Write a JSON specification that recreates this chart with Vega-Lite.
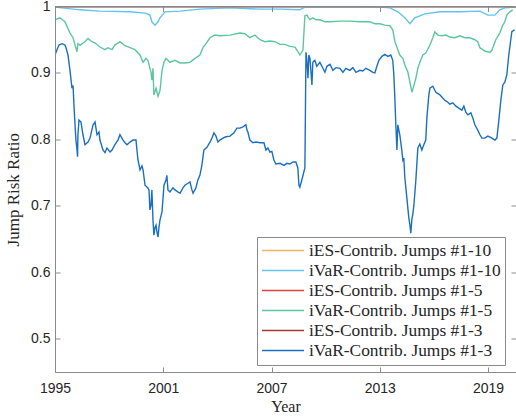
{
  "$schema": "https://vega.github.io/schema/vega-lite/v6.json",
  "width": 461,
  "height": 365.5,
  "autosize": {"type": "none"},
  "padding": {"left": 55, "top": 6.5, "right": 0, "bottom": 48},
  "background": "white",
  "config": {
    "view": {"stroke": null},
    "axis": {
      "domainColor": "#8a8a8a",
      "tickColor": "#8a8a8a",
      "tickSize": -5,
      "grid": false,
      "labelFont": "Liberation Sans",
      "labelFontSize": 14,
      "labelColor": "#262626",
      "labelFlush": false,
      "titleFont": "Liberation Serif",
      "titleFontWeight": "normal",
      "titleColor": "#262626",
      "domainWidth": 1
    },
    "legend": {
      "orient": "none",
      "legendX": 202,
      "legendY": 230.5,
      "symbolType": "stroke",
      "symbolSize": 1764,
      "symbolStrokeWidth": 1.5,
      "clipHeight": 19.2,
      "rowPadding": 0,
      "labelFont": "Liberation Serif",
      "labelFontSize": 17.4,
      "labelColor": "#262626",
      "labelOffset": 4,
      "labelLimit": 400,
      "padding": 4,
      "strokeColor": "#8a8a8a",
      "fillColor": "white"
    }
  },
  "datasets": {
    "ies": [
      {"s": "iES-Contrib. Jumps #1-10", "year": 1995.0, "v": 1.0},
      {"s": "iES-Contrib. Jumps #1-10", "year": 2020.48, "v": 1.0},
      {"s": "iES-Contrib. Jumps #1-5", "year": 1995.0, "v": 1.0},
      {"s": "iES-Contrib. Jumps #1-5", "year": 2020.48, "v": 1.0},
      {"s": "iES-Contrib. Jumps #1-3", "year": 1995.0, "v": 1.0},
      {"s": "iES-Contrib. Jumps #1-3", "year": 2020.48, "v": 1.0}
    ],
    "ivar": [
      {"s": "iVaR-Contrib. Jumps #1-10", "year": 1995.00, "v": 0.999},
      {"s": "iVaR-Contrib. Jumps #1-10", "year": 1996.39, "v": 0.995},
      {"s": "iVaR-Contrib. Jumps #1-10", "year": 1997.49, "v": 0.993},
      {"s": "iVaR-Contrib. Jumps #1-10", "year": 1999.16, "v": 0.992},
      {"s": "iVaR-Contrib. Jumps #1-10", "year": 1999.99, "v": 0.990},
      {"s": "iVaR-Contrib. Jumps #1-10", "year": 2000.26, "v": 0.987},
      {"s": "iVaR-Contrib. Jumps #1-10", "year": 2000.37, "v": 0.977},
      {"s": "iVaR-Contrib. Jumps #1-10", "year": 2000.54, "v": 0.972},
      {"s": "iVaR-Contrib. Jumps #1-10", "year": 2000.71, "v": 0.977},
      {"s": "iVaR-Contrib. Jumps #1-10", "year": 2000.82, "v": 0.983},
      {"s": "iVaR-Contrib. Jumps #1-10", "year": 2001.09, "v": 0.992},
      {"s": "iVaR-Contrib. Jumps #1-10", "year": 2001.93, "v": 0.993},
      {"s": "iVaR-Contrib. Jumps #1-10", "year": 2003.03, "v": 0.996},
      {"s": "iVaR-Contrib. Jumps #1-10", "year": 2004.70, "v": 0.998},
      {"s": "iVaR-Contrib. Jumps #1-10", "year": 2006.36, "v": 0.996},
      {"s": "iVaR-Contrib. Jumps #1-10", "year": 2007.47, "v": 0.996},
      {"s": "iVaR-Contrib. Jumps #1-10", "year": 2008.57, "v": 0.995},
      {"s": "iVaR-Contrib. Jumps #1-10", "year": 2008.85, "v": 0.999},
      {"s": "iVaR-Contrib. Jumps #1-10", "year": 2009.68, "v": 0.999},
      {"s": "iVaR-Contrib. Jumps #1-10", "year": 2013.01, "v": 0.999},
      {"s": "iVaR-Contrib. Jumps #1-10", "year": 2013.56, "v": 0.998},
      {"s": "iVaR-Contrib. Jumps #1-10", "year": 2014.00, "v": 0.992},
      {"s": "iVaR-Contrib. Jumps #1-10", "year": 2014.39, "v": 0.983},
      {"s": "iVaR-Contrib. Jumps #1-10", "year": 2014.67, "v": 0.974},
      {"s": "iVaR-Contrib. Jumps #1-10", "year": 2014.94, "v": 0.983},
      {"s": "iVaR-Contrib. Jumps #1-10", "year": 2015.50, "v": 0.989},
      {"s": "iVaR-Contrib. Jumps #1-10", "year": 2016.33, "v": 0.992},
      {"s": "iVaR-Contrib. Jumps #1-10", "year": 2017.44, "v": 0.992},
      {"s": "iVaR-Contrib. Jumps #1-10", "year": 2018.55, "v": 0.993},
      {"s": "iVaR-Contrib. Jumps #1-10", "year": 2018.99, "v": 0.987},
      {"s": "iVaR-Contrib. Jumps #1-10", "year": 2019.38, "v": 0.987},
      {"s": "iVaR-Contrib. Jumps #1-10", "year": 2019.65, "v": 0.995},
      {"s": "iVaR-Contrib. Jumps #1-10", "year": 2019.93, "v": 0.998},
      {"s": "iVaR-Contrib. Jumps #1-10", "year": 2020.48, "v": 0.999},

      {"s": "iVaR-Contrib. Jumps #1-5", "year": 1995.00, "v": 0.980},
      {"s": "iVaR-Contrib. Jumps #1-5", "year": 1995.28, "v": 0.983},
      {"s": "iVaR-Contrib. Jumps #1-5", "year": 1995.55, "v": 0.977},
      {"s": "iVaR-Contrib. Jumps #1-5", "year": 1995.83, "v": 0.960},
      {"s": "iVaR-Contrib. Jumps #1-5", "year": 1996.00, "v": 0.953},
      {"s": "iVaR-Contrib. Jumps #1-5", "year": 1996.11, "v": 0.942},
      {"s": "iVaR-Contrib. Jumps #1-5", "year": 1996.22, "v": 0.932},
      {"s": "iVaR-Contrib. Jumps #1-5", "year": 1996.27, "v": 0.944},
      {"s": "iVaR-Contrib. Jumps #1-5", "year": 1996.39, "v": 0.942},
      {"s": "iVaR-Contrib. Jumps #1-5", "year": 1996.66, "v": 0.947},
      {"s": "iVaR-Contrib. Jumps #1-5", "year": 1996.83, "v": 0.952},
      {"s": "iVaR-Contrib. Jumps #1-5", "year": 1997.05, "v": 0.947},
      {"s": "iVaR-Contrib. Jumps #1-5", "year": 1997.22, "v": 0.945},
      {"s": "iVaR-Contrib. Jumps #1-5", "year": 1997.49, "v": 0.939},
      {"s": "iVaR-Contrib. Jumps #1-5", "year": 1997.77, "v": 0.935},
      {"s": "iVaR-Contrib. Jumps #1-5", "year": 1997.94, "v": 0.938},
      {"s": "iVaR-Contrib. Jumps #1-5", "year": 1998.16, "v": 0.935},
      {"s": "iVaR-Contrib. Jumps #1-5", "year": 1998.32, "v": 0.942},
      {"s": "iVaR-Contrib. Jumps #1-5", "year": 1998.60, "v": 0.947},
      {"s": "iVaR-Contrib. Jumps #1-5", "year": 1998.88, "v": 0.941},
      {"s": "iVaR-Contrib. Jumps #1-5", "year": 1999.16, "v": 0.938},
      {"s": "iVaR-Contrib. Jumps #1-5", "year": 1999.43, "v": 0.935},
      {"s": "iVaR-Contrib. Jumps #1-5", "year": 1999.71, "v": 0.927},
      {"s": "iVaR-Contrib. Jumps #1-5", "year": 1999.88, "v": 0.916},
      {"s": "iVaR-Contrib. Jumps #1-5", "year": 2000.04, "v": 0.922},
      {"s": "iVaR-Contrib. Jumps #1-5", "year": 2000.15, "v": 0.919},
      {"s": "iVaR-Contrib. Jumps #1-5", "year": 2000.26, "v": 0.907},
      {"s": "iVaR-Contrib. Jumps #1-5", "year": 2000.32, "v": 0.901},
      {"s": "iVaR-Contrib. Jumps #1-5", "year": 2000.37, "v": 0.889},
      {"s": "iVaR-Contrib. Jumps #1-5", "year": 2000.43, "v": 0.907},
      {"s": "iVaR-Contrib. Jumps #1-5", "year": 2000.48, "v": 0.867},
      {"s": "iVaR-Contrib. Jumps #1-5", "year": 2000.60, "v": 0.877},
      {"s": "iVaR-Contrib. Jumps #1-5", "year": 2000.71, "v": 0.865},
      {"s": "iVaR-Contrib. Jumps #1-5", "year": 2000.82, "v": 0.874},
      {"s": "iVaR-Contrib. Jumps #1-5", "year": 2000.93, "v": 0.904},
      {"s": "iVaR-Contrib. Jumps #1-5", "year": 2001.04, "v": 0.916},
      {"s": "iVaR-Contrib. Jumps #1-5", "year": 2001.15, "v": 0.922},
      {"s": "iVaR-Contrib. Jumps #1-5", "year": 2001.37, "v": 0.916},
      {"s": "iVaR-Contrib. Jumps #1-5", "year": 2001.65, "v": 0.919},
      {"s": "iVaR-Contrib. Jumps #1-5", "year": 2001.93, "v": 0.915},
      {"s": "iVaR-Contrib. Jumps #1-5", "year": 2002.20, "v": 0.915},
      {"s": "iVaR-Contrib. Jumps #1-5", "year": 2002.48, "v": 0.916},
      {"s": "iVaR-Contrib. Jumps #1-5", "year": 2002.76, "v": 0.922},
      {"s": "iVaR-Contrib. Jumps #1-5", "year": 2003.03, "v": 0.927},
      {"s": "iVaR-Contrib. Jumps #1-5", "year": 2003.20, "v": 0.938},
      {"s": "iVaR-Contrib. Jumps #1-5", "year": 2003.31, "v": 0.942},
      {"s": "iVaR-Contrib. Jumps #1-5", "year": 2003.59, "v": 0.953},
      {"s": "iVaR-Contrib. Jumps #1-5", "year": 2003.86, "v": 0.957},
      {"s": "iVaR-Contrib. Jumps #1-5", "year": 2004.14, "v": 0.956},
      {"s": "iVaR-Contrib. Jumps #1-5", "year": 2004.70, "v": 0.957},
      {"s": "iVaR-Contrib. Jumps #1-5", "year": 2005.25, "v": 0.960},
      {"s": "iVaR-Contrib. Jumps #1-5", "year": 2005.53, "v": 0.959},
      {"s": "iVaR-Contrib. Jumps #1-5", "year": 2005.80, "v": 0.953},
      {"s": "iVaR-Contrib. Jumps #1-5", "year": 2006.08, "v": 0.957},
      {"s": "iVaR-Contrib. Jumps #1-5", "year": 2006.36, "v": 0.950},
      {"s": "iVaR-Contrib. Jumps #1-5", "year": 2006.63, "v": 0.947},
      {"s": "iVaR-Contrib. Jumps #1-5", "year": 2006.91, "v": 0.948},
      {"s": "iVaR-Contrib. Jumps #1-5", "year": 2007.19, "v": 0.947},
      {"s": "iVaR-Contrib. Jumps #1-5", "year": 2007.47, "v": 0.943},
      {"s": "iVaR-Contrib. Jumps #1-5", "year": 2007.74, "v": 0.943},
      {"s": "iVaR-Contrib. Jumps #1-5", "year": 2008.02, "v": 0.940},
      {"s": "iVaR-Contrib. Jumps #1-5", "year": 2008.30, "v": 0.939},
      {"s": "iVaR-Contrib. Jumps #1-5", "year": 2008.46, "v": 0.932},
      {"s": "iVaR-Contrib. Jumps #1-5", "year": 2008.57, "v": 0.927},
      {"s": "iVaR-Contrib. Jumps #1-5", "year": 2008.74, "v": 0.934},
      {"s": "iVaR-Contrib. Jumps #1-5", "year": 2008.85, "v": 0.986},
      {"s": "iVaR-Contrib. Jumps #1-5", "year": 2008.96, "v": 0.987},
      {"s": "iVaR-Contrib. Jumps #1-5", "year": 2009.13, "v": 0.980},
      {"s": "iVaR-Contrib. Jumps #1-5", "year": 2009.29, "v": 0.983},
      {"s": "iVaR-Contrib. Jumps #1-5", "year": 2009.46, "v": 0.980},
      {"s": "iVaR-Contrib. Jumps #1-5", "year": 2009.68, "v": 0.980},
      {"s": "iVaR-Contrib. Jumps #1-5", "year": 2009.96, "v": 0.977},
      {"s": "iVaR-Contrib. Jumps #1-5", "year": 2010.24, "v": 0.977},
      {"s": "iVaR-Contrib. Jumps #1-5", "year": 2010.79, "v": 0.978},
      {"s": "iVaR-Contrib. Jumps #1-5", "year": 2011.34, "v": 0.978},
      {"s": "iVaR-Contrib. Jumps #1-5", "year": 2011.90, "v": 0.977},
      {"s": "iVaR-Contrib. Jumps #1-5", "year": 2012.45, "v": 0.977},
      {"s": "iVaR-Contrib. Jumps #1-5", "year": 2012.73, "v": 0.974},
      {"s": "iVaR-Contrib. Jumps #1-5", "year": 2013.01, "v": 0.974},
      {"s": "iVaR-Contrib. Jumps #1-5", "year": 2013.28, "v": 0.972},
      {"s": "iVaR-Contrib. Jumps #1-5", "year": 2013.56, "v": 0.971},
      {"s": "iVaR-Contrib. Jumps #1-5", "year": 2013.72, "v": 0.965},
      {"s": "iVaR-Contrib. Jumps #1-5", "year": 2013.84, "v": 0.947},
      {"s": "iVaR-Contrib. Jumps #1-5", "year": 2014.00, "v": 0.935},
      {"s": "iVaR-Contrib. Jumps #1-5", "year": 2014.11, "v": 0.927},
      {"s": "iVaR-Contrib. Jumps #1-5", "year": 2014.28, "v": 0.922},
      {"s": "iVaR-Contrib. Jumps #1-5", "year": 2014.39, "v": 0.912},
      {"s": "iVaR-Contrib. Jumps #1-5", "year": 2014.56, "v": 0.901},
      {"s": "iVaR-Contrib. Jumps #1-5", "year": 2014.67, "v": 0.886},
      {"s": "iVaR-Contrib. Jumps #1-5", "year": 2014.78, "v": 0.871},
      {"s": "iVaR-Contrib. Jumps #1-5", "year": 2014.89, "v": 0.881},
      {"s": "iVaR-Contrib. Jumps #1-5", "year": 2015.00, "v": 0.892},
      {"s": "iVaR-Contrib. Jumps #1-5", "year": 2015.11, "v": 0.907},
      {"s": "iVaR-Contrib. Jumps #1-5", "year": 2015.22, "v": 0.916},
      {"s": "iVaR-Contrib. Jumps #1-5", "year": 2015.39, "v": 0.927},
      {"s": "iVaR-Contrib. Jumps #1-5", "year": 2015.55, "v": 0.930},
      {"s": "iVaR-Contrib. Jumps #1-5", "year": 2015.78, "v": 0.942},
      {"s": "iVaR-Contrib. Jumps #1-5", "year": 2015.94, "v": 0.953},
      {"s": "iVaR-Contrib. Jumps #1-5", "year": 2016.05, "v": 0.962},
      {"s": "iVaR-Contrib. Jumps #1-5", "year": 2016.22, "v": 0.957},
      {"s": "iVaR-Contrib. Jumps #1-5", "year": 2016.44, "v": 0.956},
      {"s": "iVaR-Contrib. Jumps #1-5", "year": 2016.66, "v": 0.957},
      {"s": "iVaR-Contrib. Jumps #1-5", "year": 2016.88, "v": 0.954},
      {"s": "iVaR-Contrib. Jumps #1-5", "year": 2017.16, "v": 0.953},
      {"s": "iVaR-Contrib. Jumps #1-5", "year": 2017.44, "v": 0.956},
      {"s": "iVaR-Contrib. Jumps #1-5", "year": 2017.71, "v": 0.953},
      {"s": "iVaR-Contrib. Jumps #1-5", "year": 2017.99, "v": 0.953},
      {"s": "iVaR-Contrib. Jumps #1-5", "year": 2018.27, "v": 0.950},
      {"s": "iVaR-Contrib. Jumps #1-5", "year": 2018.43, "v": 0.947},
      {"s": "iVaR-Contrib. Jumps #1-5", "year": 2018.55, "v": 0.938},
      {"s": "iVaR-Contrib. Jumps #1-5", "year": 2018.82, "v": 0.933},
      {"s": "iVaR-Contrib. Jumps #1-5", "year": 2019.10, "v": 0.931},
      {"s": "iVaR-Contrib. Jumps #1-5", "year": 2019.21, "v": 0.934},
      {"s": "iVaR-Contrib. Jumps #1-5", "year": 2019.32, "v": 0.942},
      {"s": "iVaR-Contrib. Jumps #1-5", "year": 2019.43, "v": 0.950},
      {"s": "iVaR-Contrib. Jumps #1-5", "year": 2019.65, "v": 0.960},
      {"s": "iVaR-Contrib. Jumps #1-5", "year": 2019.82, "v": 0.972},
      {"s": "iVaR-Contrib. Jumps #1-5", "year": 2019.93, "v": 0.977},
      {"s": "iVaR-Contrib. Jumps #1-5", "year": 2020.04, "v": 0.987},
      {"s": "iVaR-Contrib. Jumps #1-5", "year": 2020.21, "v": 0.992},
      {"s": "iVaR-Contrib. Jumps #1-5", "year": 2020.37, "v": 0.995},

      {"s": "iVaR-Contrib. Jumps #1-3", "year": 1995.00, "v": 0.927},
      {"s": "iVaR-Contrib. Jumps #1-3", "year": 1995.11, "v": 0.935},
      {"s": "iVaR-Contrib. Jumps #1-3", "year": 1995.22, "v": 0.942},
      {"s": "iVaR-Contrib. Jumps #1-3", "year": 1995.39, "v": 0.944},
      {"s": "iVaR-Contrib. Jumps #1-3", "year": 1995.55, "v": 0.942},
      {"s": "iVaR-Contrib. Jumps #1-3", "year": 1995.61, "v": 0.938},
      {"s": "iVaR-Contrib. Jumps #1-3", "year": 1995.72, "v": 0.927},
      {"s": "iVaR-Contrib. Jumps #1-3", "year": 1995.83, "v": 0.904},
      {"s": "iVaR-Contrib. Jumps #1-3", "year": 1995.94, "v": 0.877},
      {"s": "iVaR-Contrib. Jumps #1-3", "year": 1996.00, "v": 0.881},
      {"s": "iVaR-Contrib. Jumps #1-3", "year": 1996.05, "v": 0.852},
      {"s": "iVaR-Contrib. Jumps #1-3", "year": 1996.11, "v": 0.822},
      {"s": "iVaR-Contrib. Jumps #1-3", "year": 1996.16, "v": 0.799},
      {"s": "iVaR-Contrib. Jumps #1-3", "year": 1996.22, "v": 0.784},
      {"s": "iVaR-Contrib. Jumps #1-3", "year": 1996.25, "v": 0.774},
      {"s": "iVaR-Contrib. Jumps #1-3", "year": 1996.27, "v": 0.807},
      {"s": "iVaR-Contrib. Jumps #1-3", "year": 1996.33, "v": 0.829},
      {"s": "iVaR-Contrib. Jumps #1-3", "year": 1996.44, "v": 0.826},
      {"s": "iVaR-Contrib. Jumps #1-3", "year": 1996.55, "v": 0.807},
      {"s": "iVaR-Contrib. Jumps #1-3", "year": 1996.66, "v": 0.792},
      {"s": "iVaR-Contrib. Jumps #1-3", "year": 1996.83, "v": 0.796},
      {"s": "iVaR-Contrib. Jumps #1-3", "year": 1996.94, "v": 0.802},
      {"s": "iVaR-Contrib. Jumps #1-3", "year": 1997.11, "v": 0.822},
      {"s": "iVaR-Contrib. Jumps #1-3", "year": 1997.22, "v": 0.826},
      {"s": "iVaR-Contrib. Jumps #1-3", "year": 1997.27, "v": 0.817},
      {"s": "iVaR-Contrib. Jumps #1-3", "year": 1997.33, "v": 0.807},
      {"s": "iVaR-Contrib. Jumps #1-3", "year": 1997.44, "v": 0.811},
      {"s": "iVaR-Contrib. Jumps #1-3", "year": 1997.49, "v": 0.799},
      {"s": "iVaR-Contrib. Jumps #1-3", "year": 1997.66, "v": 0.784},
      {"s": "iVaR-Contrib. Jumps #1-3", "year": 1997.77, "v": 0.780},
      {"s": "iVaR-Contrib. Jumps #1-3", "year": 1997.88, "v": 0.787},
      {"s": "iVaR-Contrib. Jumps #1-3", "year": 1998.05, "v": 0.781},
      {"s": "iVaR-Contrib. Jumps #1-3", "year": 1998.16, "v": 0.784},
      {"s": "iVaR-Contrib. Jumps #1-3", "year": 1998.32, "v": 0.792},
      {"s": "iVaR-Contrib. Jumps #1-3", "year": 1998.49, "v": 0.799},
      {"s": "iVaR-Contrib. Jumps #1-3", "year": 1998.60, "v": 0.807},
      {"s": "iVaR-Contrib. Jumps #1-3", "year": 1998.77, "v": 0.799},
      {"s": "iVaR-Contrib. Jumps #1-3", "year": 1998.88, "v": 0.795},
      {"s": "iVaR-Contrib. Jumps #1-3", "year": 1998.99, "v": 0.792},
      {"s": "iVaR-Contrib. Jumps #1-3", "year": 1999.16, "v": 0.796},
      {"s": "iVaR-Contrib. Jumps #1-3", "year": 1999.32, "v": 0.799},
      {"s": "iVaR-Contrib. Jumps #1-3", "year": 1999.49, "v": 0.799},
      {"s": "iVaR-Contrib. Jumps #1-3", "year": 1999.54, "v": 0.784},
      {"s": "iVaR-Contrib. Jumps #1-3", "year": 1999.60, "v": 0.769},
      {"s": "iVaR-Contrib. Jumps #1-3", "year": 1999.71, "v": 0.754},
      {"s": "iVaR-Contrib. Jumps #1-3", "year": 1999.82, "v": 0.760},
      {"s": "iVaR-Contrib. Jumps #1-3", "year": 1999.88, "v": 0.754},
      {"s": "iVaR-Contrib. Jumps #1-3", "year": 1999.99, "v": 0.731},
      {"s": "iVaR-Contrib. Jumps #1-3", "year": 2000.15, "v": 0.727},
      {"s": "iVaR-Contrib. Jumps #1-3", "year": 2000.21, "v": 0.724},
      {"s": "iVaR-Contrib. Jumps #1-3", "year": 2000.26, "v": 0.694},
      {"s": "iVaR-Contrib. Jumps #1-3", "year": 2000.32, "v": 0.701},
      {"s": "iVaR-Contrib. Jumps #1-3", "year": 2000.37, "v": 0.724},
      {"s": "iVaR-Contrib. Jumps #1-3", "year": 2000.43, "v": 0.679},
      {"s": "iVaR-Contrib. Jumps #1-3", "year": 2000.48, "v": 0.656},
      {"s": "iVaR-Contrib. Jumps #1-3", "year": 2000.54, "v": 0.667},
      {"s": "iVaR-Contrib. Jumps #1-3", "year": 2000.60, "v": 0.671},
      {"s": "iVaR-Contrib. Jumps #1-3", "year": 2000.65, "v": 0.661},
      {"s": "iVaR-Contrib. Jumps #1-3", "year": 2000.71, "v": 0.653},
      {"s": "iVaR-Contrib. Jumps #1-3", "year": 2000.76, "v": 0.667},
      {"s": "iVaR-Contrib. Jumps #1-3", "year": 2000.82, "v": 0.679},
      {"s": "iVaR-Contrib. Jumps #1-3", "year": 2000.93, "v": 0.691},
      {"s": "iVaR-Contrib. Jumps #1-3", "year": 2001.04, "v": 0.731},
      {"s": "iVaR-Contrib. Jumps #1-3", "year": 2001.15, "v": 0.739},
      {"s": "iVaR-Contrib. Jumps #1-3", "year": 2001.20, "v": 0.746},
      {"s": "iVaR-Contrib. Jumps #1-3", "year": 2001.26, "v": 0.724},
      {"s": "iVaR-Contrib. Jumps #1-3", "year": 2001.37, "v": 0.721},
      {"s": "iVaR-Contrib. Jumps #1-3", "year": 2001.54, "v": 0.727},
      {"s": "iVaR-Contrib. Jumps #1-3", "year": 2001.65, "v": 0.724},
      {"s": "iVaR-Contrib. Jumps #1-3", "year": 2001.81, "v": 0.721},
      {"s": "iVaR-Contrib. Jumps #1-3", "year": 2001.93, "v": 0.719},
      {"s": "iVaR-Contrib. Jumps #1-3", "year": 2002.09, "v": 0.727},
      {"s": "iVaR-Contrib. Jumps #1-3", "year": 2002.20, "v": 0.731},
      {"s": "iVaR-Contrib. Jumps #1-3", "year": 2002.37, "v": 0.734},
      {"s": "iVaR-Contrib. Jumps #1-3", "year": 2002.48, "v": 0.736},
      {"s": "iVaR-Contrib. Jumps #1-3", "year": 2002.59, "v": 0.724},
      {"s": "iVaR-Contrib. Jumps #1-3", "year": 2002.65, "v": 0.719},
      {"s": "iVaR-Contrib. Jumps #1-3", "year": 2002.81, "v": 0.727},
      {"s": "iVaR-Contrib. Jumps #1-3", "year": 2002.92, "v": 0.739},
      {"s": "iVaR-Contrib. Jumps #1-3", "year": 2003.03, "v": 0.746},
      {"s": "iVaR-Contrib. Jumps #1-3", "year": 2003.14, "v": 0.761},
      {"s": "iVaR-Contrib. Jumps #1-3", "year": 2003.25, "v": 0.784},
      {"s": "iVaR-Contrib. Jumps #1-3", "year": 2003.42, "v": 0.788},
      {"s": "iVaR-Contrib. Jumps #1-3", "year": 2003.59, "v": 0.796},
      {"s": "iVaR-Contrib. Jumps #1-3", "year": 2003.70, "v": 0.802},
      {"s": "iVaR-Contrib. Jumps #1-3", "year": 2003.81, "v": 0.810},
      {"s": "iVaR-Contrib. Jumps #1-3", "year": 2003.92, "v": 0.805},
      {"s": "iVaR-Contrib. Jumps #1-3", "year": 2004.03, "v": 0.796},
      {"s": "iVaR-Contrib. Jumps #1-3", "year": 2004.14, "v": 0.799},
      {"s": "iVaR-Contrib. Jumps #1-3", "year": 2004.31, "v": 0.802},
      {"s": "iVaR-Contrib. Jumps #1-3", "year": 2004.47, "v": 0.804},
      {"s": "iVaR-Contrib. Jumps #1-3", "year": 2004.70, "v": 0.805},
      {"s": "iVaR-Contrib. Jumps #1-3", "year": 2004.92, "v": 0.810},
      {"s": "iVaR-Contrib. Jumps #1-3", "year": 2005.08, "v": 0.817},
      {"s": "iVaR-Contrib. Jumps #1-3", "year": 2005.25, "v": 0.817},
      {"s": "iVaR-Contrib. Jumps #1-3", "year": 2005.42, "v": 0.819},
      {"s": "iVaR-Contrib. Jumps #1-3", "year": 2005.58, "v": 0.822},
      {"s": "iVaR-Contrib. Jumps #1-3", "year": 2005.64, "v": 0.814},
      {"s": "iVaR-Contrib. Jumps #1-3", "year": 2005.69, "v": 0.811},
      {"s": "iVaR-Contrib. Jumps #1-3", "year": 2005.80, "v": 0.799},
      {"s": "iVaR-Contrib. Jumps #1-3", "year": 2005.97, "v": 0.795},
      {"s": "iVaR-Contrib. Jumps #1-3", "year": 2006.14, "v": 0.796},
      {"s": "iVaR-Contrib. Jumps #1-3", "year": 2006.36, "v": 0.795},
      {"s": "iVaR-Contrib. Jumps #1-3", "year": 2006.58, "v": 0.795},
      {"s": "iVaR-Contrib. Jumps #1-3", "year": 2006.69, "v": 0.784},
      {"s": "iVaR-Contrib. Jumps #1-3", "year": 2006.80, "v": 0.787},
      {"s": "iVaR-Contrib. Jumps #1-3", "year": 2006.91, "v": 0.781},
      {"s": "iVaR-Contrib. Jumps #1-3", "year": 2007.02, "v": 0.782},
      {"s": "iVaR-Contrib. Jumps #1-3", "year": 2007.13, "v": 0.769},
      {"s": "iVaR-Contrib. Jumps #1-3", "year": 2007.24, "v": 0.763},
      {"s": "iVaR-Contrib. Jumps #1-3", "year": 2007.47, "v": 0.764},
      {"s": "iVaR-Contrib. Jumps #1-3", "year": 2007.69, "v": 0.761},
      {"s": "iVaR-Contrib. Jumps #1-3", "year": 2007.85, "v": 0.764},
      {"s": "iVaR-Contrib. Jumps #1-3", "year": 2008.02, "v": 0.763},
      {"s": "iVaR-Contrib. Jumps #1-3", "year": 2008.19, "v": 0.766},
      {"s": "iVaR-Contrib. Jumps #1-3", "year": 2008.35, "v": 0.766},
      {"s": "iVaR-Contrib. Jumps #1-3", "year": 2008.46, "v": 0.757},
      {"s": "iVaR-Contrib. Jumps #1-3", "year": 2008.52, "v": 0.731},
      {"s": "iVaR-Contrib. Jumps #1-3", "year": 2008.57, "v": 0.728},
      {"s": "iVaR-Contrib. Jumps #1-3", "year": 2008.68, "v": 0.739},
      {"s": "iVaR-Contrib. Jumps #1-3", "year": 2008.79, "v": 0.751},
      {"s": "iVaR-Contrib. Jumps #1-3", "year": 2008.85, "v": 0.757},
      {"s": "iVaR-Contrib. Jumps #1-3", "year": 2008.91, "v": 0.931},
      {"s": "iVaR-Contrib. Jumps #1-3", "year": 2008.96, "v": 0.919},
      {"s": "iVaR-Contrib. Jumps #1-3", "year": 2009.02, "v": 0.892},
      {"s": "iVaR-Contrib. Jumps #1-3", "year": 2009.07, "v": 0.927},
      {"s": "iVaR-Contrib. Jumps #1-3", "year": 2009.13, "v": 0.922},
      {"s": "iVaR-Contrib. Jumps #1-3", "year": 2009.18, "v": 0.904},
      {"s": "iVaR-Contrib. Jumps #1-3", "year": 2009.24, "v": 0.882},
      {"s": "iVaR-Contrib. Jumps #1-3", "year": 2009.29, "v": 0.916},
      {"s": "iVaR-Contrib. Jumps #1-3", "year": 2009.40, "v": 0.919},
      {"s": "iVaR-Contrib. Jumps #1-3", "year": 2009.51, "v": 0.910},
      {"s": "iVaR-Contrib. Jumps #1-3", "year": 2009.68, "v": 0.916},
      {"s": "iVaR-Contrib. Jumps #1-3", "year": 2009.85, "v": 0.907},
      {"s": "iVaR-Contrib. Jumps #1-3", "year": 2009.96, "v": 0.901},
      {"s": "iVaR-Contrib. Jumps #1-3", "year": 2010.07, "v": 0.910},
      {"s": "iVaR-Contrib. Jumps #1-3", "year": 2010.24, "v": 0.913},
      {"s": "iVaR-Contrib. Jumps #1-3", "year": 2010.40, "v": 0.904},
      {"s": "iVaR-Contrib. Jumps #1-3", "year": 2010.57, "v": 0.908},
      {"s": "iVaR-Contrib. Jumps #1-3", "year": 2010.79, "v": 0.907},
      {"s": "iVaR-Contrib. Jumps #1-3", "year": 2010.96, "v": 0.901},
      {"s": "iVaR-Contrib. Jumps #1-3", "year": 2011.12, "v": 0.907},
      {"s": "iVaR-Contrib. Jumps #1-3", "year": 2011.34, "v": 0.904},
      {"s": "iVaR-Contrib. Jumps #1-3", "year": 2011.51, "v": 0.908},
      {"s": "iVaR-Contrib. Jumps #1-3", "year": 2011.68, "v": 0.901},
      {"s": "iVaR-Contrib. Jumps #1-3", "year": 2011.90, "v": 0.904},
      {"s": "iVaR-Contrib. Jumps #1-3", "year": 2012.06, "v": 0.903},
      {"s": "iVaR-Contrib. Jumps #1-3", "year": 2012.23, "v": 0.907},
      {"s": "iVaR-Contrib. Jumps #1-3", "year": 2012.45, "v": 0.904},
      {"s": "iVaR-Contrib. Jumps #1-3", "year": 2012.62, "v": 0.901},
      {"s": "iVaR-Contrib. Jumps #1-3", "year": 2012.73, "v": 0.900},
      {"s": "iVaR-Contrib. Jumps #1-3", "year": 2012.84, "v": 0.910},
      {"s": "iVaR-Contrib. Jumps #1-3", "year": 2012.95, "v": 0.919},
      {"s": "iVaR-Contrib. Jumps #1-3", "year": 2013.12, "v": 0.925},
      {"s": "iVaR-Contrib. Jumps #1-3", "year": 2013.28, "v": 0.928},
      {"s": "iVaR-Contrib. Jumps #1-3", "year": 2013.45, "v": 0.925},
      {"s": "iVaR-Contrib. Jumps #1-3", "year": 2013.61, "v": 0.927},
      {"s": "iVaR-Contrib. Jumps #1-3", "year": 2013.72, "v": 0.919},
      {"s": "iVaR-Contrib. Jumps #1-3", "year": 2013.78, "v": 0.897},
      {"s": "iVaR-Contrib. Jumps #1-3", "year": 2013.84, "v": 0.859},
      {"s": "iVaR-Contrib. Jumps #1-3", "year": 2013.89, "v": 0.822},
      {"s": "iVaR-Contrib. Jumps #1-3", "year": 2013.95, "v": 0.784},
      {"s": "iVaR-Contrib. Jumps #1-3", "year": 2014.00, "v": 0.822},
      {"s": "iVaR-Contrib. Jumps #1-3", "year": 2014.11, "v": 0.807},
      {"s": "iVaR-Contrib. Jumps #1-3", "year": 2014.22, "v": 0.784},
      {"s": "iVaR-Contrib. Jumps #1-3", "year": 2014.28, "v": 0.769},
      {"s": "iVaR-Contrib. Jumps #1-3", "year": 2014.33, "v": 0.772},
      {"s": "iVaR-Contrib. Jumps #1-3", "year": 2014.39, "v": 0.742},
      {"s": "iVaR-Contrib. Jumps #1-3", "year": 2014.50, "v": 0.712},
      {"s": "iVaR-Contrib. Jumps #1-3", "year": 2014.61, "v": 0.682},
      {"s": "iVaR-Contrib. Jumps #1-3", "year": 2014.67, "v": 0.671},
      {"s": "iVaR-Contrib. Jumps #1-3", "year": 2014.72, "v": 0.659},
      {"s": "iVaR-Contrib. Jumps #1-3", "year": 2014.78, "v": 0.680},
      {"s": "iVaR-Contrib. Jumps #1-3", "year": 2014.83, "v": 0.687},
      {"s": "iVaR-Contrib. Jumps #1-3", "year": 2014.89, "v": 0.701},
      {"s": "iVaR-Contrib. Jumps #1-3", "year": 2015.00, "v": 0.739},
      {"s": "iVaR-Contrib. Jumps #1-3", "year": 2015.11, "v": 0.787},
      {"s": "iVaR-Contrib. Jumps #1-3", "year": 2015.22, "v": 0.793},
      {"s": "iVaR-Contrib. Jumps #1-3", "year": 2015.33, "v": 0.784},
      {"s": "iVaR-Contrib. Jumps #1-3", "year": 2015.44, "v": 0.792},
      {"s": "iVaR-Contrib. Jumps #1-3", "year": 2015.55, "v": 0.799},
      {"s": "iVaR-Contrib. Jumps #1-3", "year": 2015.61, "v": 0.832},
      {"s": "iVaR-Contrib. Jumps #1-3", "year": 2015.72, "v": 0.867},
      {"s": "iVaR-Contrib. Jumps #1-3", "year": 2015.78, "v": 0.877},
      {"s": "iVaR-Contrib. Jumps #1-3", "year": 2015.94, "v": 0.880},
      {"s": "iVaR-Contrib. Jumps #1-3", "year": 2016.11, "v": 0.871},
      {"s": "iVaR-Contrib. Jumps #1-3", "year": 2016.33, "v": 0.867},
      {"s": "iVaR-Contrib. Jumps #1-3", "year": 2016.50, "v": 0.862},
      {"s": "iVaR-Contrib. Jumps #1-3", "year": 2016.61, "v": 0.859},
      {"s": "iVaR-Contrib. Jumps #1-3", "year": 2016.77, "v": 0.856},
      {"s": "iVaR-Contrib. Jumps #1-3", "year": 2016.88, "v": 0.853},
      {"s": "iVaR-Contrib. Jumps #1-3", "year": 2017.05, "v": 0.855},
      {"s": "iVaR-Contrib. Jumps #1-3", "year": 2017.22, "v": 0.850},
      {"s": "iVaR-Contrib. Jumps #1-3", "year": 2017.38, "v": 0.847},
      {"s": "iVaR-Contrib. Jumps #1-3", "year": 2017.55, "v": 0.844},
      {"s": "iVaR-Contrib. Jumps #1-3", "year": 2017.66, "v": 0.850},
      {"s": "iVaR-Contrib. Jumps #1-3", "year": 2017.77, "v": 0.841},
      {"s": "iVaR-Contrib. Jumps #1-3", "year": 2017.88, "v": 0.837},
      {"s": "iVaR-Contrib. Jumps #1-3", "year": 2018.05, "v": 0.840},
      {"s": "iVaR-Contrib. Jumps #1-3", "year": 2018.16, "v": 0.832},
      {"s": "iVaR-Contrib. Jumps #1-3", "year": 2018.27, "v": 0.822},
      {"s": "iVaR-Contrib. Jumps #1-3", "year": 2018.43, "v": 0.814},
      {"s": "iVaR-Contrib. Jumps #1-3", "year": 2018.55, "v": 0.807},
      {"s": "iVaR-Contrib. Jumps #1-3", "year": 2018.66, "v": 0.802},
      {"s": "iVaR-Contrib. Jumps #1-3", "year": 2018.82, "v": 0.802},
      {"s": "iVaR-Contrib. Jumps #1-3", "year": 2018.99, "v": 0.805},
      {"s": "iVaR-Contrib. Jumps #1-3", "year": 2019.21, "v": 0.802},
      {"s": "iVaR-Contrib. Jumps #1-3", "year": 2019.38, "v": 0.799},
      {"s": "iVaR-Contrib. Jumps #1-3", "year": 2019.49, "v": 0.802},
      {"s": "iVaR-Contrib. Jumps #1-3", "year": 2019.60, "v": 0.829},
      {"s": "iVaR-Contrib. Jumps #1-3", "year": 2019.71, "v": 0.859},
      {"s": "iVaR-Contrib. Jumps #1-3", "year": 2019.82, "v": 0.882},
      {"s": "iVaR-Contrib. Jumps #1-3", "year": 2019.93, "v": 0.886},
      {"s": "iVaR-Contrib. Jumps #1-3", "year": 2020.04, "v": 0.897},
      {"s": "iVaR-Contrib. Jumps #1-3", "year": 2020.15, "v": 0.927},
      {"s": "iVaR-Contrib. Jumps #1-3", "year": 2020.26, "v": 0.950},
      {"s": "iVaR-Contrib. Jumps #1-3", "year": 2020.32, "v": 0.962},
      {"s": "iVaR-Contrib. Jumps #1-3", "year": 2020.48, "v": 0.965}
    ]
  },
  "layer": [
    {
      "data": {"name": "ies"},
      "mark": {"type": "line", "strokeWidth": 1, "clip": true},
      "encoding": {
        "x": {"field": "year", "type": "quantitative",
          "scale": {"domain": [1995, 2020.55], "nice": false, "zero": false},
          "axis": {"orient": "top", "labels": false, "title": null, "zindex": 2, "domainWidth": 1.6, "values": [1995, 2001, 2007, 2013, 2019]}},
        "y": {"field": "v", "type": "quantitative",
          "scale": {"domain": [0.45, 1.0], "nice": false, "zero": false},
          "axis": {"orient": "right", "labels": false, "title": null, "zindex": 2, "values": [0.5, 0.6, 0.7, 0.8, 0.9, 1.0]}},
        "color": {"field": "s", "type": "nominal",
          "scale": {
            "domain": ["iES-Contrib. Jumps #1-10", "iVaR-Contrib. Jumps #1-10", "iES-Contrib. Jumps #1-5", "iVaR-Contrib. Jumps #1-5", "iES-Contrib. Jumps #1-3", "iVaR-Contrib. Jumps #1-3"],
            "range": ["#EEB462", "#61C3EE", "#E8403C", "#5CC79E", "#A83434", "#1A6FC3"]},
          "legend": {"title": null}}
      }
    },
    {
      "data": {"name": "ivar"},
      "mark": {"type": "line", "strokeWidth": 1.4, "clip": true},
      "encoding": {
        "x": {"field": "year", "type": "quantitative",
          "scale": {"domain": [1995, 2020.55], "nice": false, "zero": false},
          "axis": {"orient": "bottom", "title": "Year", "zindex": 2, "titleFontSize": 16, "titlePadding": 3, "labelPadding": 14, "format": "d", "values": [1995, 2001, 2007, 2013, 2019]}},
        "y": {"field": "v", "type": "quantitative",
          "scale": {"domain": [0.45, 1.0], "nice": false, "zero": false},
          "axis": {"orient": "left", "title": "Jump Risk Ratio", "zindex": 2, "titleFontSize": 17, "titlePadding": 8, "labelPadding": 10, "format": ".1~f", "values": [0.5, 0.6, 0.7, 0.8, 0.9, 1.0]}},
        "color": {"field": "s", "type": "nominal",
          "scale": {
            "domain": ["iES-Contrib. Jumps #1-10", "iVaR-Contrib. Jumps #1-10", "iES-Contrib. Jumps #1-5", "iVaR-Contrib. Jumps #1-5", "iES-Contrib. Jumps #1-3", "iVaR-Contrib. Jumps #1-3"],
            "range": ["#EEB462", "#61C3EE", "#E8403C", "#5CC79E", "#A83434", "#1A6FC3"]},
          "legend": {"title": null}}
      }
    }
  ],
  "resolve": {"axis": {"x": "independent", "y": "independent"}}
}
